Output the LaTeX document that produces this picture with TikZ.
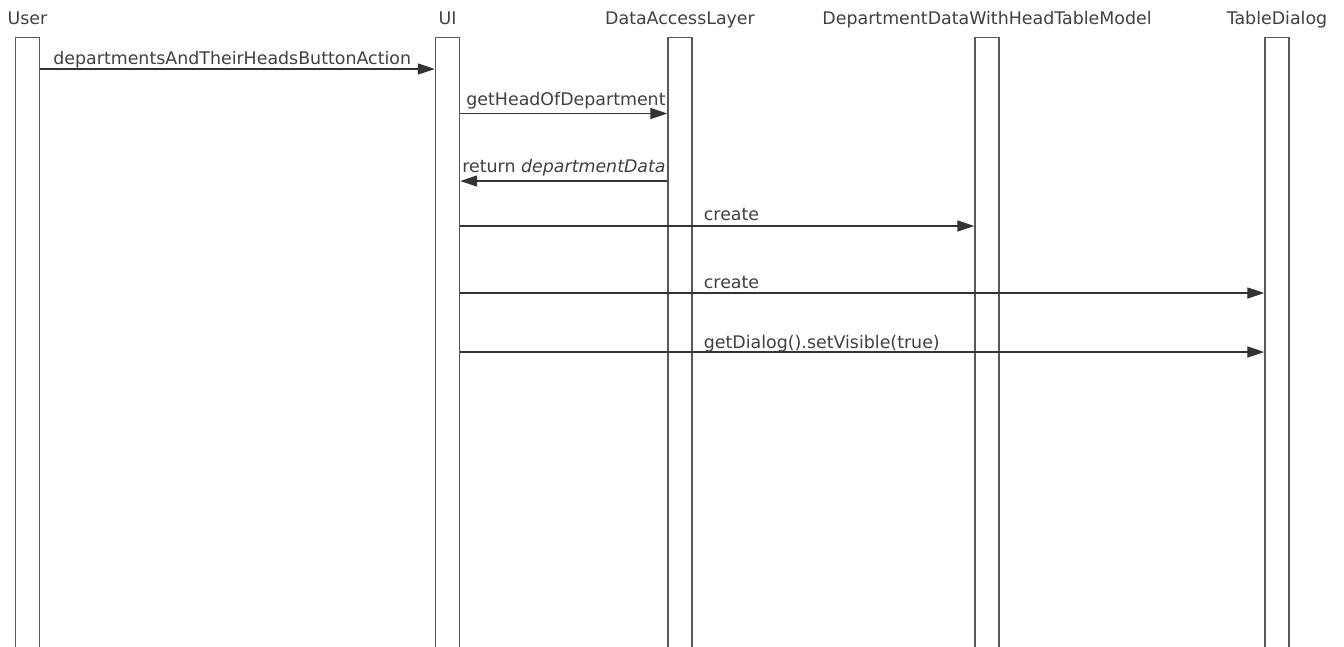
\documentclass[tikz,border=0pt]{standalone}
\usepackage{fontspec}
\setmainfont{DejaVu Sans}
\usetikzlibrary{positioning,arrows.meta}

\tikzset{
  lifebox/.style={draw=black!65, line width=1.4pt, fill=white, minimum width=24pt,
    minimum height=640pt, anchor=north, inner sep=0pt},
  head/.style={font=\fontsize{17.4}{20}\selectfont, text=black!75, inner sep=0pt,
    text height=12.7pt, text depth=3pt},
  lbl/.style={font=\fontsize{17.4}{20}\selectfont, text=black!75, inner sep=0pt,
    anchor=base west},
  msg/.style={draw=black!80, line width=1.3pt, -{Triangle[length=17pt,width=11pt]}}
}

\begin{document}
\begin{tikzpicture}[x=1pt, y=-1pt]
            \useasboundingbox (0,0) rectangle (1344,646);
            \clip (0,0) rectangle (1344,646);

            % Lifelines
            \node[lifebox] (user) at (27.5,37) {};
            \node[lifebox] (ui) at (447.5,37) {};
            \node[lifebox] (dal) at (680,37) {};
            \node[lifebox] (model) at (987,37) {};
            \node[lifebox] (dialog) at (1277,37) {};

            \node[head, above=9pt of user] (userhead) {User};
            \node[head, above=9pt of ui] (uihead) {UI};
            \node[head, above=9pt of dal] (dalhead) {DataAccessLayer};
            \node[head, above=9pt of model] (modelhead) {DepartmentDataWithHeadTableModel};
            \node[head, above=9pt of dialog] (dialoghead) {TableDialog};

            % Message heights
            \coordinate (m1) at (0,69);
            \coordinate (m2) at (0,113.5);
            \coordinate (m3) at (0,181);
            \coordinate (m4) at (0,226);
            \coordinate (m5) at (0,293);
            \coordinate (m6) at (0,352);

            % Messages
            \draw[msg] (user.east |- m1) -- (ui.west |- m1);
            \draw[msg] (ui.east |- m2) -- (dal.west |- m2);
            \draw[msg] (dal.west |- m3) -- (ui.east |- m3);
            \draw[msg] (ui.east |- m4) -- (model.west |- m4);
            \draw[msg] (ui.east |- m5) -- (dialog.west |- m5);
            \draw[msg] (ui.east |- m6) -- (dialog.west |- m6);

            \node[lbl, xshift=13pt, yshift=5pt] (l1) at (user.east |- m1) {departmentsAndTheirHeadsButtonAction};
            \node[lbl, xshift=6pt, yshift=8pt] (l2) at (ui.east |- m2) {getHeadOfDepartment};
            \node[lbl, xshift=2pt, yshift=9pt] (l3) at (ui.east |- m3) {return \textit{departmentData}};
            \node[lbl, xshift=11pt, yshift=6pt] (l4) at (dal.east |- m4) {create};
            \node[lbl, xshift=11pt, yshift=5pt] (l5) at (dal.east |- m5) {create};
            \node[lbl, xshift=11pt, yshift=4pt] (l6) at (dal.east |- m6) {getDialog().setVisible(true)};
          \end{tikzpicture}
\end{document}
